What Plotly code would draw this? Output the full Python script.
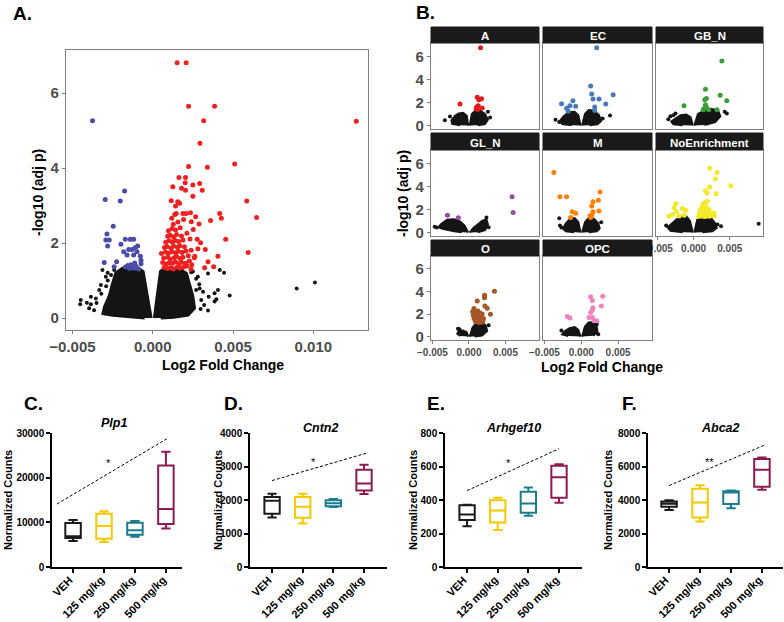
import plotly.graph_objects as go

W, H = 784, 622
FONT = "Liberation Sans, Arial, sans-serif"
GREY = "#4d4d4d"
INK = "#141414"

# ---------------- Panel A: volcano plot ----------------
a_blue_x = [-0.00375, -0.00296, -0.00175, -0.00202, -0.00246, -0.00285, -0.00292, -0.00271,
            -0.00281, -0.00198, -0.00171, -0.0014, -0.00119, -0.0015, -0.00129, -0.00108,
            -0.00094, -0.00181, -0.0016, -0.00119, -0.00098, -0.00077, -0.00073, -0.00073,
            -0.00302, -0.00225, -0.0024, -0.00155, -0.00135, -0.00125, -0.00115, -0.00145,
            -0.0017, -0.00105, -0.00088, -0.00112]
a_blue_y = [5.26, 3.16, 3.39, 3.12, 2.45, 2.24, 2.08, 2.08, 1.92, 1.97, 2.10, 2.10, 2.10, 1.83,
            1.83, 1.88, 1.92, 1.77, 1.68, 1.68, 1.77, 1.65, 1.54, 1.45, 1.48, 1.50, 1.37, 1.40,
            1.42, 1.35, 1.33, 1.32, 1.36, 1.38, 1.31, 1.47]

a_red_x = [0.00152, 0.00208, 0.00223, 0.00385, 0.00317, 0.01267, 0.00294, 0.0051, 0.00223,
           0.0034, 0.00163, 0.00204, 0.00125, 0.00179, 0.00202, 0.0025, 0.00292, 0.00308,
           0.00204, 0.00115, 0.00156, 0.00167, 0.0025, 0.00585, 0.00142, 0.00188, 0.00208,
           0.00235, 0.00146, 0.00417, 0.00427, 0.00646, 0.0036, 0.00267, 0.0024, 0.00288,
           0.00454, 0.00594, 0.00406, 0.00344, 0.00379, 0.00323, 0.00277, 0.00298, 0.00327,
           0.00262, 0.00243, 0.00238,
           0.00071, 0.00092, 0.00113, 0.00128, 0.00152, 0.00169, 0.00193, 0.00212,
           0.00062, 0.00083, 0.00101, 0.00124, 0.00141, 0.00163, 0.00178, 0.00204, 0.00228,
           0.00068, 0.00094, 0.00108, 0.00133, 0.00148, 0.00172, 0.00187, 0.00221, 0.00259,
           0.00054, 0.00079, 0.00097, 0.00119, 0.00143, 0.00158, 0.00183, 0.00207, 0.00239,
           0.00073, 0.00088, 0.00114, 0.00129, 0.00154, 0.00168, 0.00197, 0.00281,
           0.00081, 0.00102, 0.00122, 0.00139, 0.00161, 0.00188, 0.00232,
           0.00093, 0.00109, 0.00131, 0.00149, 0.00179, 0.00213,
           0.00098, 0.00121, 0.00142, 0.00171, 0.00252,
           0.00128, 0.00157, 0.00118, 0.00192, 0.00137]
a_red_y = [6.81, 6.81, 5.65, 5.65, 5.26, 5.25, 4.66, 4.11, 4.04, 4.02, 3.75, 3.75, 3.50, 3.46,
           3.61, 3.55, 3.59, 3.41, 3.41, 3.13, 3.10, 3.06, 3.25, 3.12, 2.99, 2.79, 2.79, 2.81,
           2.79, 2.79, 2.66, 2.68, 2.60, 2.70, 2.57, 2.51, 2.10, 1.75, 1.65, 1.50, 1.37, 1.34,
           2.10, 2.01, 1.83, 1.65, 1.42, 1.31,
           1.35, 1.32, 1.34, 1.31, 1.36, 1.33, 1.37, 1.39,
           1.48, 1.44, 1.47, 1.46, 1.50, 1.45, 1.49, 1.46, 1.52,
           1.60, 1.63, 1.57, 1.61, 1.64, 1.59, 1.62, 1.66, 1.61,
           1.72, 1.76, 1.73, 1.77, 1.74, 1.78, 1.75, 1.79, 1.81,
           1.88, 1.91, 1.86, 1.92, 1.89, 1.93, 1.90, 1.85,
           2.02, 2.06, 2.03, 2.07, 2.04, 2.08, 2.11,
           2.18, 2.21, 2.16, 2.23, 2.19, 2.26,
           2.33, 2.39, 2.35, 2.41, 2.36,
           2.50, 2.56, 2.66, 2.63, 2.76]

# outline of the dense non-significant cloud (left lobe, gap, right lobe)
a_cloud_x = [-0.0001, -0.0006, -0.0009, -0.0014, -0.0019, -0.0023, -0.0025, -0.0027, -0.0030,
             -0.0031, -0.0025, -0.0015, -0.0005, None,
             0.0001, 0.00048, 0.0007, 0.0012, 0.0017, 0.0021, 0.0023, 0.0025, 0.0026, 0.0022,
             0.0013, 0.0005]
a_cloud_y = [0.0, 1.24, 1.33, 1.36, 1.32, 1.20, 0.92, 0.60, 0.30, 0.12, 0.07, 0.03, 0.0, None,
             0.0, 1.24, 1.32, 1.33, 1.31, 1.19, 0.88, 0.57, 0.26, 0.08, 0.02, 0.0]

a_black_x = [-0.00448, -0.00452, -0.0041, -0.00385, -0.00396, -0.00354, -0.00333, -0.00323,
             -0.00313, -0.00292, -0.00281, -0.00365, -0.00296, -0.00385, -0.0028, -0.0032,
             -0.0035, -0.0029, -0.0026, -0.0024,
             0.00298, 0.00344, 0.00385, 0.00396, 0.00406, 0.00417, 0.00444, 0.00479, 0.00385,
             0.00348, 0.00302, 0.00313, 0.00292, 0.00896, 0.0101, 0.00344, 0.00281, 0.0025,
             0.0027, 0.0029, 0.0032, 0.0024, 0.0027]
a_black_y = [0.48, 0.37, 0.41, 0.37, 0.26, 0.52, 0.75, 0.88, 1.28, 1.10, 1.21, 0.21, 0.12, 0.57,
             1.00, 0.65, 0.40, 0.85, 1.15, 1.28,
             0.24, 0.20, 0.44, 0.50, 0.75, 1.28, 1.21, 0.60, 0.66, 0.57, 0.48, 0.70, 0.79,
             0.79, 0.95, 1.19, 1.10, 1.24, 1.05, 0.90, 0.35, 1.22, 0.75]

# ---------------- Panel B: facets by cell type ----------------
astro_hit_x = [0.00159, -0.00123, 0.00114, 0.00136, 0.00173, 0.00182, 0.0010, 0.00118, 0.00127, 0.00105]
astro_hit_y = [6.74, 1.86, 2.46, 2.23, 2.31, 1.51, 1.45, 1.38, 1.71, 1.60]
astro_cloud_x = [-0.0001, -0.0003, -0.0008, -0.0014, -0.0019, -0.0024, -0.0023, -0.0012, None,
                 0.0001, 0.0004, 0.0009, 0.0015, 0.0022, 0.0026, 0.0022, 0.0012]
astro_cloud_y = [0, 0.85, 1.1, 1.05, 0.85, 0.45, 0.15, 0.03, None,
                 0, 1.0, 1.3, 1.3, 1.0, 0.5, 0.12, 0.02]
astro_dot_x = [-0.0033, -0.0026, 0.0026, 0.0029, 0.0019]
astro_dot_y = [0.46, 0.78, 1.2, 0.7, 0.2]

endo_hit_x = [0.00209, 0.00127, 0.00141, 0.00159, 0.00241, 0.00432, 0.00332, -0.00114, -0.00155,
              -0.00077, -0.00268, -0.00177, 0.00182, 0.00182, -0.0020]
endo_hit_y = [6.74, 3.43, 2.74, 2.29, 2.29, 2.66, 1.86, 2.14, 1.71, 1.66, 1.89, 1.23, 1.60, 1.31, 1.50]
endo_cloud_x = [-0.0001, -0.0004, -0.0009, -0.0017, -0.0024, -0.0029, -0.0026, -0.0013, None,
                0.0001, 0.0005, 0.0010, 0.0017, 0.0024, 0.0027, 0.0022, 0.0011]
endo_cloud_y = [0, 0.9, 1.2, 1.15, 0.8, 0.4, 0.12, 0.03, None,
                0, 1.0, 1.35, 1.3, 0.9, 0.4, 0.1, 0.02]
endo_dot_x = [-0.0035, 0.0039, 0.0029, -0.0030]
endo_dot_y = [0.51, 0.86, 0.60, 0.30]

gbn_hit_x = [0.00391, 0.00164, 0.00368, 0.00459, 0.00177, 0.00155, -0.00132, 0.00164, 0.00177,
             0.00132, 0.00209, 0.00323, 0.0015]
gbn_hit_y = [5.6, 3.14, 2.63, 2.14, 2.34, 2.23, 1.71, 1.80, 1.60, 1.37, 1.37, 1.37, 1.50]
gbn_cloud_x = [-0.0001, -0.0004, -0.0010, -0.0018, -0.0025, -0.0031, -0.0028, -0.0015, None,
               0.0001, 0.0006, 0.0015, 0.0024, 0.0034, 0.0037, 0.0030, 0.0015]
gbn_cloud_y = [0, 0.7, 0.95, 0.9, 0.6, 0.35, 0.1, 0.02, None,
               0, 1.0, 1.3, 1.45, 1.3, 0.8, 0.3, 0.05]
gbn_dot_x = [-0.0032, -0.0028, -0.0025, 0.0043, 0.0046, -0.0035]
gbn_dot_y = [0.8, 0.9, 1.05, 1.2, 1.05, 0.55]

gln_hit_x = [0.00591, 0.00605, -0.00295, -0.00145]
gln_hit_y = [3.09, 1.74, 1.49, 1.29]
gln_cloud_x = [-0.0001, -0.0006, -0.0012, -0.0020, -0.0030, -0.0038, -0.0042, -0.0035, -0.0020,
               -0.0010, None,
               0.0001, 0.0006, 0.0012, 0.0018, 0.0024, 0.0026, 0.0022, 0.0012]
gln_cloud_y = [0, 0.6, 0.95, 1.15, 1.1, 0.75, 0.45, 0.3, 0.1, 0.02, None,
               0, 0.4, 0.7, 1.0, 1.15, 0.7, 0.2, 0.02]
gln_dot_x = [-0.0044, -0.0047, 0.0027, 0.0024]
gln_dot_y = [0.43, 0.50, 0.45, 1.30]

micro_hit_x = [-0.00373, -0.00291, -0.0020, 0.00255, 0.00232, 0.00159, 0.00141, 0.0024, 0.00159,
               -0.00123, -0.00077, -0.00145, 0.00127, 0.00118, 0.00145]
micro_hit_y = [5.2, 3.09, 3.09, 3.51, 2.8, 2.66, 2.29, 1.86, 1.80, 1.80, 1.66, 1.30, 1.30, 1.45, 1.55]
micro_cloud_x = [-0.0001, -0.0004, -0.0009, -0.0015, -0.0021, -0.0025, -0.0021, -0.0010, None,
                 0.0001, 0.0005, 0.0010, 0.0017, 0.0023, 0.0025, 0.0021, 0.0010]
micro_cloud_y = [0, 0.9, 1.25, 1.2, 0.8, 0.35, 0.1, 0.02, None,
                 0, 0.9, 1.25, 1.2, 0.8, 0.35, 0.1, 0.02]
micro_dot_x = [-0.0030, -0.0027, -0.0029, 0.0027]
micro_dot_y = [1.23, 0.43, 0.60, 0.90]

noenr_hit_x = [0.00223, 0.00323, 0.0030, 0.00514, 0.00223, 0.00164, 0.00186, 0.00314,
               -0.00245, -0.0027, -0.00155, -0.0011, -0.0029, -0.0020, -0.0034, -0.0013, -0.0024,
               0.0007, 0.0010, 0.0013, 0.0016, 0.0019, 0.0022, 0.0026, 0.0008, 0.0011, 0.0014,
               0.0017, 0.0020, 0.0024, 0.0009, 0.0012, 0.0015, 0.0018, 0.0021, 0.0011, 0.0014,
               0.0017, 0.0013, 0.0016, 0.0019, 0.0015, 0.0029, 0.0028]
noenr_hit_y = [5.57, 5.2, 4.63, 4.06, 3.94, 3.63, 3.43, 3.37,
               2.49, 2.14, 2.09, 1.94, 1.57, 1.43, 1.43, 1.50, 1.80,
               1.40, 1.45, 1.42, 1.40, 1.45, 1.42, 1.50, 1.65, 1.70, 1.62,
               1.68, 1.72, 1.65, 1.90, 1.95, 1.88, 1.92, 2.00, 2.15, 2.20,
               2.25, 2.45, 2.60, 2.70, 2.35, 1.45, 1.70]
noenr_cloud_x = [-0.0001, -0.0005, -0.0010, -0.0020, -0.0028, -0.0036, -0.0032, -0.0015, None,
                 0.0001, 0.0005, 0.0010, 0.0022, 0.0029, 0.0032, 0.0026, 0.0012]
noenr_cloud_y = [0, 1.0, 1.4, 1.35, 0.9, 0.45, 0.15, 0.03, None,
                 0, 1.1, 1.4, 1.4, 0.9, 0.4, 0.1, 0.02]
noenr_dot_x = [0.0090, 0.0038, 0.0033, -0.0038]
noenr_dot_y = [0.77, 0.54, 0.70, 0.60]

oligo_hit_x = [0.0035, 0.00214, 0.00214, 0.00114, 0.00218, 0.0025, 0.00295, 0.00068, 0.00123,
               0.0005, 0.0008, 0.0011, 0.0015, 0.0018, 0.0006, 0.0009, 0.0012, 0.0016, 0.0007,
               0.0010, 0.0013, 0.0017, 0.0020, 0.0009, 0.0012, 0.0015, 0.0019]
oligo_hit_y = [4.02, 3.67, 3.44, 3.15, 2.71, 2.51, 1.98, 2.50, 2.27,
               2.20, 2.30, 2.20, 2.10, 2.00, 1.90, 1.95, 1.85, 1.80, 1.60,
               1.65, 1.55, 1.50, 1.60, 1.35, 1.30, 1.25, 1.30]
oligo_cloud_x = [-0.0001, -0.0003, -0.0008, -0.0014, -0.0016, -0.0012, None,
                 0.0001, 0.0005, 0.0010, 0.0017, 0.0023, 0.0025, 0.0018, 0.0008]
oligo_cloud_y = [0, 0.4, 0.55, 0.5, 0.25, 0.05, None,
                 0, 0.8, 1.2, 1.3, 1.0, 0.5, 0.1, 0.02]
oligo_dot_x = [-0.0015, -0.0013, 0.0027]
oligo_dot_y = [0.70, 0.65, 1.00]

opc_hit_x = [0.00127, 0.00291, 0.0015, 0.00159, 0.0015, 0.00273, 0.00127, -0.00191, -0.00155,
             0.00105, 0.0015, 0.00173, 0.00209]
opc_hit_y = [3.53, 3.59, 3.21, 2.57, 2.36, 2.71, 2.13, 1.78, 1.66, 1.70, 1.70, 1.40, 1.40]
opc_cloud_x = [-0.0001, -0.0004, -0.0009, -0.0016, -0.0023, -0.0026, -0.0018, None,
               0.0001, 0.0005, 0.0010, 0.0016, 0.0021, 0.0022, 0.0016]
opc_cloud_y = [0, 0.6, 0.85, 0.75, 0.45, 0.2, 0.05, None,
               0, 0.9, 1.25, 1.3, 0.9, 0.4, 0.08]
opc_dot_x = [-0.0027, 0.0023, 0.0021]
opc_dot_y = [0.55, 0.20, 1.10]

facet_names = ["A", "EC", "GB_N", "GL_N", "M", "NoEnrichment", "O", "OPC"]
facet_colors = ["#e41a1c", "#4a79b8", "#3a9d3a", "#984ea3", "#ff7f00", "#f2ea2a", "#a65628", "#f082be"]

# ---------------- Panels C-F: box plots ----------------
groups = ["VEH", "125 mg/kg", "250 mg/kg", "500 mg/kg"]
group_colors = ["#1a1a1a", "#f5c800", "#1b7d8c", "#8e1a52"]

plp1_low = [5800, 5600, 6800, 8600]
plp1_q1 = [6500, 6300, 7200, 9600]
plp1_med = [6900, 9200, 8200, 13000]
plp1_q3 = [9850, 11900, 9900, 22700]
plp1_high = [10500, 12500, 10300, 25800]

cntn2_low = [1480, 1300, 1790, 2180]
cntn2_q1 = [1590, 1470, 1815, 2280]
cntn2_med = [1980, 1800, 1900, 2490]
cntn2_q3 = [2090, 2090, 1990, 2900]
cntn2_high = [2190, 2190, 2030, 3050]

arh_low = [243, 221, 306, 384]
arh_q1 = [280, 265, 324, 413]
arh_med = [314, 338, 379, 536]
arh_q3 = [368, 399, 449, 605]
arh_high = [372, 413, 474, 614]

abca2_low = [3400, 2710, 3500, 4610]
abca2_q1 = [3600, 2950, 3760, 4790]
abca2_med = [3780, 3850, 4450, 5810]
abca2_q3 = [3910, 4670, 4520, 6450]
abca2_high = [3980, 4880, 4560, 6540]

plp1_trend_x, plp1_trend_y = [-0.52, 3.03], [14100, 28700]
cntn2_trend_x, cntn2_trend_y = [0.0, 3.09], [2580, 3400]
arh_trend_x, arh_trend_y = [0.0, 3.0], [456, 706]
abca2_trend_x, abca2_trend_y = [0.0, 3.1], [4860, 7290]


def dom_x(a, b):
    return [a / W, b / W]


def dom_y(top, bottom):
    return [1 - bottom / H, 1 - top / H]


def bold_font(size, color="black"):
    return dict(family=FONT, size=size, color=color, weight="bold")


fig = go.Figure()
layout = {}
annotations = []
shapes = []


def note(text, px, py, size, color="black", angle=0, xanchor="center"):
    annotations.append(dict(text=text, x=px / W, y=1 - py / H, xref="paper", yref="paper",
                            showarrow=False, textangle=angle, xanchor=xanchor, yanchor="middle",
                            font=dict(family=FONT, size=size, color=color)))


fold_ticks = [-0.005, 0.0, 0.005, 0.010]
fold_text = ["\u22120.005", "0.000", "0.005", "0.010"]

# panel A
layout["xaxis"] = dict(domain=dom_x(66, 368), range=[-0.0054, 0.0134], tickvals=fold_ticks,
                       ticktext=fold_text, showline=True, mirror=True, linecolor="#7f7f7f",
                       linewidth=1.3, ticks="outside", ticklen=3, tickcolor="#7f7f7f",
                       showgrid=False, zeroline=False, anchor="y", automargin=False,
                       tickfont=bold_font(15, GREY))
layout["yaxis"] = dict(domain=dom_y(50, 330), range=[-0.32, 7.15], tickvals=[0, 2, 4, 6],
                       showline=True, mirror=True, linecolor="#7f7f7f", linewidth=1.3,
                       ticks="outside", ticklen=3, tickcolor="#7f7f7f", showgrid=False,
                       zeroline=False, anchor="x", automargin=False,
                       tickfont=bold_font(15, GREY))
fig.add_trace(go.Scatter(x=a_cloud_x, y=a_cloud_y, mode="lines", fill="toself", fillcolor=INK,
                         line=dict(color=INK, width=3), xaxis="x", yaxis="y"))
fig.add_trace(go.Scatter(x=a_black_x, y=a_black_y, mode="markers",
                         marker=dict(color=INK, size=4), xaxis="x", yaxis="y"))
fig.add_trace(go.Scatter(x=a_blue_x, y=a_blue_y, mode="markers",
                         marker=dict(color="#4b4ba8", size=5), xaxis="x", yaxis="y"))
fig.add_trace(go.Scatter(x=a_red_x, y=a_red_y, mode="markers",
                         marker=dict(color="#f02020", size=5), xaxis="x", yaxis="y"))
note("<b>A.</b>", 11, 14, 19, xanchor="left")
note("<b>-log10 (adj p)</b>", 38, 193, 14, angle=-90)
note("<b>Log2 Fold Change</b>", 223, 365, 14)

# panel B
facet_hits = [(astro_hit_x, astro_hit_y), (endo_hit_x, endo_hit_y), (gbn_hit_x, gbn_hit_y),
              (gln_hit_x, gln_hit_y), (micro_hit_x, micro_hit_y), (noenr_hit_x, noenr_hit_y),
              (oligo_hit_x, oligo_hit_y), (opc_hit_x, opc_hit_y)]
facet_clouds = [(astro_cloud_x, astro_cloud_y), (endo_cloud_x, endo_cloud_y),
                (gbn_cloud_x, gbn_cloud_y), (gln_cloud_x, gln_cloud_y),
                (micro_cloud_x, micro_cloud_y), (noenr_cloud_x, noenr_cloud_y),
                (oligo_cloud_x, oligo_cloud_y), (opc_cloud_x, opc_cloud_y)]
facet_dots = [(astro_dot_x, astro_dot_y), (endo_dot_x, endo_dot_y), (gbn_dot_x, gbn_dot_y),
              (gln_dot_x, gln_dot_y), (micro_dot_x, micro_dot_y), (noenr_dot_x, noenr_dot_y),
              (oligo_dot_x, oligo_dot_y), (opc_dot_x, opc_dot_y)]
col_px = [(431, 539), (543, 652), (656, 763)]
row_px = [(43, 129), (150, 236), (256, 340)]
strip_px = [(27, 43), (133, 150), (240, 256)]
with_x_labels = {"NoEnrichment", "O", "OPC"}

for i, name in enumerate(facet_names):
    n = i + 2
    r, c = divmod(i, 3)
    xa, ya = "x%d" % n, "y%d" % n
    layout["xaxis%d" % n] = dict(domain=dom_x(*col_px[c]), range=[-0.0052, 0.0096],
                                 tickvals=fold_ticks[:3], ticktext=fold_text[:3],
                                 showticklabels=name in with_x_labels,
                                 ticks="outside" if name in with_x_labels else "",
                                 ticklen=3, tickcolor="#7f7f7f",
                                 showline=True, mirror=True, linecolor="#7f7f7f", linewidth=1.2,
                                 showgrid=False, zeroline=False, anchor=ya, automargin=False,
                                 tickfont=bold_font(10, GREY))
    layout["yaxis%d" % n] = dict(domain=dom_y(*row_px[r]), range=[-0.3, 7.15],
                                 tickvals=[0, 2, 4, 6], showticklabels=(c == 0),
                                 ticks="outside" if c == 0 else "", ticklen=3,
                                 tickcolor="#7f7f7f", showline=True, mirror=True,
                                 linecolor="#7f7f7f", linewidth=1.2, showgrid=False,
                                 zeroline=False, anchor=xa, automargin=False,
                                 tickfont=bold_font(15, GREY))
    cx, cy = facet_clouds[i]
    fig.add_trace(go.Scatter(x=cx, y=cy, mode="lines", fill="toself", fillcolor=INK,
                             line=dict(color=INK, width=2), xaxis=xa, yaxis=ya))
    dx, dy = facet_dots[i]
    fig.add_trace(go.Scatter(x=dx, y=dy, mode="markers", marker=dict(color=INK, size=4),
                             xaxis=xa, yaxis=ya))
    hx, hy = facet_hits[i]
    fig.add_trace(go.Scatter(x=hx, y=hy, mode="markers",
                             marker=dict(color=facet_colors[i], size=5),
                             xaxis=xa, yaxis=ya))
    x0, x1 = col_px[c]
    s0, s1 = strip_px[r]
    shapes.append(dict(type="rect", xref="paper", yref="paper", x0=x0 / W, x1=x1 / W,
                       y0=1 - s1 / H, y1=1 - s0 / H, fillcolor="#1a1a1a",
                       line=dict(color="#1a1a1a", width=1)))
    note("<b>%s</b>" % name, (x0 + x1) / 2, (s0 + s1) / 2 + 1, 11.5, color="white")

note("<b>B.</b>", 414, 12, 19, xanchor="left")
note("<b>-log10 (adj p)</b>", 403, 194, 14, angle=-90)
note("<b>Log2 Fold Change</b>", 602, 367, 14)

# panels C-F
box_panels = [
    ("C.", "Plp1", (plp1_low, plp1_q1, plp1_med, plp1_q3, plp1_high),
     (plp1_trend_x, plp1_trend_y), "*", (1.13, 23300), 30000, 10000,
     (52, 182), [-0.68, 3.52], 22, 114, 423, 8),
    ("D.", "Cntn2", (cntn2_low, cntn2_q1, cntn2_med, cntn2_q3, cntn2_high),
     (cntn2_trend_x, cntn2_trend_y), "*", (1.34, 3120), 4000, 1000,
     (250, 387), [-0.72, 3.75], 222, 320, 428, 218),
    ("E.", "Arhgef10", (arh_low, arh_q1, arh_med, arh_q3, arh_high),
     (arh_trend_x, arh_trend_y), "*", (1.34, 620), 800, 200,
     (445, 582), [-0.72, 3.75], 425, 513, 428, 413),
    ("F.", "Abca2", (abca2_low, abca2_q1, abca2_med, abca2_q3, abca2_high),
     (abca2_trend_x, abca2_trend_y), "**", (1.29, 6250), 8000, 2000,
     (648, 783), [-0.68, 3.68], 620, 720, 428, 608),
]

for k, (letter, gene, stats, trend, star, star_xy, ymax, dtick, xpx, xr, lx, tx, ty, yx) in \
        enumerate(box_panels):
    n = k + 10
    xa, ya = "x%d" % n, "y%d" % n
    layout["xaxis%d" % n] = dict(domain=dom_x(*xpx), range=xr, tickvals=[0, 1, 2, 3],
                                 showticklabels=False, showline=True,
                                 linecolor="black", linewidth=1.5, ticks="outside", ticklen=4,
                                 tickwidth=1.5, tickcolor="black", showgrid=False,
                                 zeroline=False, anchor=ya, automargin=False)
    layout["yaxis%d" % n] = dict(domain=dom_y(433, 567), range=[0, ymax], dtick=dtick,
                                 tickformat="d", showline=True, linecolor="black",
                                 linewidth=1.5, ticks="outside", ticklen=4, tickwidth=1.5,
                                 tickcolor="black", showgrid=False, zeroline=False, anchor=xa,
                                 automargin=False, tickfont=bold_font(10))
    low, q1, med, q3, high = stats
    for g in range(4):
        fig.add_trace(go.Box(x=[g], lowerfence=[low[g]], q1=[q1[g]], median=[med[g]],
                             q3=[q3[g]], upperfence=[high[g]], width=0.5, whiskerwidth=0.6,
                             fillcolor="rgba(0,0,0,0)", line=dict(color=group_colors[g], width=2),
                             boxpoints=False, xaxis=xa, yaxis=ya))
        # rotated category label ending just under its tick
        annotations.append(dict(text="<b>%s</b>" % groups[g], x=g + 0.12, y=1 - 572 / H,
                                xref=xa, yref="paper", showarrow=False, textangle=-45,
                                xanchor="right", yanchor="top", borderpad=0,
                                font=dict(family=FONT, size=11, color="black")))
    fig.add_trace(go.Scatter(x=trend[0], y=trend[1], mode="lines",
                             line=dict(color="black", width=1, dash="3px,2px"),
                             xaxis=xa, yaxis=ya))
    annotations.append(dict(text=star, x=star_xy[0], y=star_xy[1], xref=xa, yref=ya,
                            showarrow=False, font=dict(family=FONT, size=11, color="black")))
    note("<b>%s</b>" % letter, lx, 403, 19, xanchor="left")
    note("<b><i>%s</i></b>" % gene, tx, ty, 12.5)
    note("<b>Normalized Counts</b>", yx, 500, 11, angle=-90)

layout.update(dict(width=W, height=H, margin=dict(l=0, r=0, t=0, b=0, pad=0, autoexpand=False),
                   template="none", paper_bgcolor="white", plot_bgcolor="white",
                   showlegend=False, annotations=annotations, shapes=shapes,
                   font=dict(family=FONT)))
fig.update_layout(**layout)
fig.write_html("out.html", config={"displayModeBar": False},
               post_script="document.body.style.margin='0';document.body.style.overflow='hidden';")
